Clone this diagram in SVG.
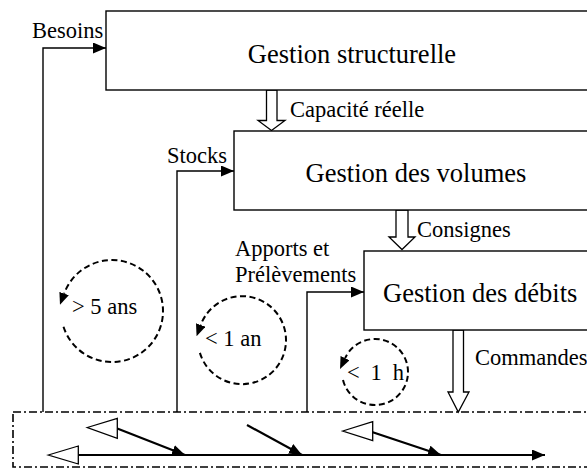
<svg xmlns="http://www.w3.org/2000/svg" width="587" height="469" viewBox="0 0 587 469">
<defs>
<style>
.box{fill:#fff;stroke:#000;stroke-width:1.4}
.big{font-family:"Liberation Serif","Times New Roman",serif;font-size:26.5px;fill:#000}
.lbl{font-family:"Liberation Serif","Times New Roman",serif;font-size:22.5px;fill:#000}
.conn{fill:none;stroke:#000;stroke-width:1.4}
.block{fill:#fff;stroke:#000;stroke-width:1.3}
.cyc{fill:none;stroke:#000;stroke-width:2;stroke-dasharray:6 3.5}
.flow{fill:none;stroke:#000;stroke-width:2.2}
.hollow{fill:#fff;stroke:#000;stroke-width:1.3}
.frame{fill:none;stroke:#000;stroke-width:1.6;stroke-dasharray:8 3 2 3}
</style>
<marker id="tip" markerUnits="userSpaceOnUse" markerWidth="13" markerHeight="11" refX="13" refY="5.5" orient="auto">
<path d="M0,0 L13,5.5 L0,11 z" fill="#000"/>
</marker>
<marker id="cyctip" markerUnits="userSpaceOnUse" markerWidth="12" markerHeight="10" refX="0" refY="5" orient="auto">
<path d="M0,0 L12,5 L0,10 z" fill="#000"/>
</marker>
</defs>

<g id="connectors">
<polyline class="conn" points="43,412 43,48 106,48" marker-end="url(#tip)"/>
<polyline class="conn" points="177,412 177,171 234,171" marker-end="url(#tip)"/>
<polyline class="conn" points="307,412 307,292 364,292" marker-end="url(#tip)"/>
<polygon class="block" points="266.5,90 277,90 277,120.5 285,120.5 271.5,130.5 258,120.5 266.5,120.5"/>
<polygon class="block" points="396,210 408,210 408,237 415,237 402,249.5 389,237 396,237"/>
<polygon class="block" points="453,330 463.5,330 463.5,392 469,392 458.3,412 448,392 453,392"/>
</g>

<g id="node-structurelle">
<rect class="box" x="106" y="11" width="500" height="79"/>
<text class="big" x="352" y="63" text-anchor="middle">Gestion structurelle</text>
</g>
<g id="node-volumes">
<rect class="box" x="234" y="131" width="370" height="79"/>
<text class="big" x="416" y="182" text-anchor="middle">Gestion des volumes</text>
</g>
<g id="node-debits">
<rect class="box" x="364" y="251" width="240" height="79"/>
<text class="big" x="383" y="302">Gestion des débits</text>
</g>

<g id="labels">
<text class="lbl" x="32" y="38">Besoins</text>
<text class="lbl" x="290" y="117">Capacité réelle</text>
<text class="lbl" x="167" y="163">Stocks</text>
<text class="lbl" x="417" y="237">Consignes</text>
<text class="lbl" x="235" y="256">Apports et</text>
<text class="lbl" x="235" y="282">Prélèvements</text>
<text class="lbl" x="475" y="365">Commandes</text>
</g>

<g id="cycle-5ans">
<path class="cyc" d="M63.5,326.8 A51,51 0 1 0 64.1,293.6" marker-end="url(#cyctip)"/>
<text class="lbl" x="72" y="314">&gt; 5 ans</text>
</g>
<g id="cycle-1an">
<path class="cyc" d="M199.9,352.9 A44,44 0 1 0 200.7,325" marker-end="url(#cyctip)"/>
<text class="lbl" x="205" y="346">&lt; 1 an</text>
</g>
<g id="cycle-1h">
<path class="cyc" d="M343,380 A33,33 0 1 0 345.1,358.1" marker-end="url(#cyctip)"/>
<text class="lbl" x="347" y="380" textLength="57" lengthAdjust="spacing">&lt; 1 h</text>
</g>

<g id="process">
<rect class="frame" x="13" y="412" width="590" height="55"/>
<line class="flow" x1="78" y1="455" x2="545" y2="455" marker-end="url(#tip)"/>
<polygon class="hollow" points="48.3,455 78.3,446 78.3,464"/>
<line class="flow" x1="116" y1="428" x2="185" y2="455" marker-end="url(#tip)"/>
<polygon class="hollow" points="87.3,427.5 117.3,418.3 117.3,438.3"/>
<line class="flow" x1="247" y1="425" x2="302" y2="455" marker-end="url(#tip)"/>
<line class="flow" x1="372" y1="432" x2="441" y2="455" marker-end="url(#tip)"/>
<polygon class="hollow" points="342.7,431 372.7,421.7 372.7,440.7"/>
</g>
</svg>
